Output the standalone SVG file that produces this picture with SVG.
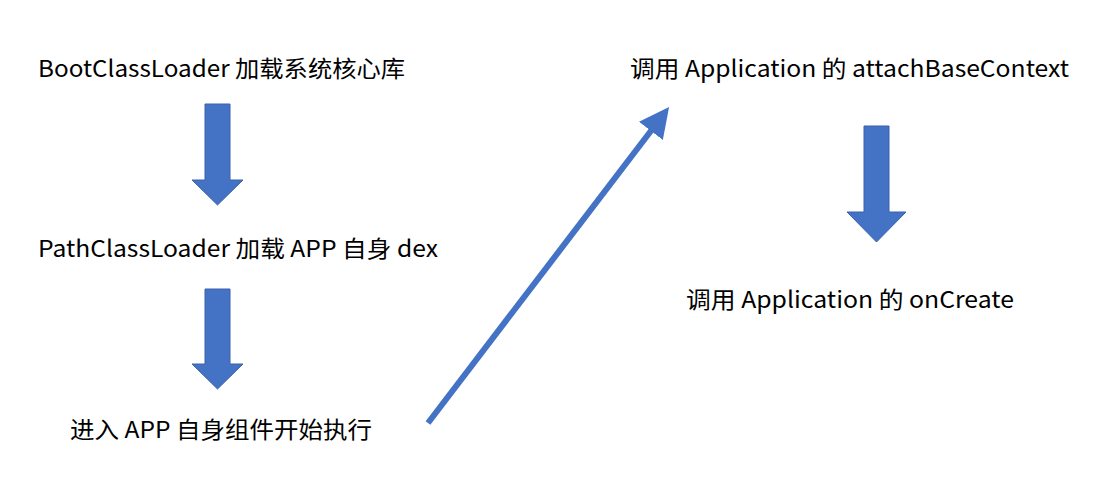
<svg xmlns="http://www.w3.org/2000/svg" width="1098" height="498" viewBox="0 0 1098 498">
<style>
text{font-family:"Noto Sans CJK SC","Noto Sans",sans-serif;font-size:23px;fill:#000}
.blk{fill:#4472C4;stroke:#3a63ad;stroke-width:1}
</style>
<defs>
<marker id="ah" markerWidth="5" markerHeight="5" refX="2.5" refY="2.5" orient="auto" markerUnits="strokeWidth">
<path d="M0,0 L5,2.5 L0,5 z" fill="#4472C4"/>
</marker>
</defs>
<rect width="1098" height="498" fill="#fff"/>
<g id="n1"><text x="38" y="77" textLength="367" lengthAdjust="spacingAndGlyphs">BootClassLoader 加载系统核心库</text></g>
<g id="n2"><text x="38" y="257" textLength="400" lengthAdjust="spacingAndGlyphs">PathClassLoader 加载 APP 自身 dex</text></g>
<g id="n3"><text x="70" y="438" textLength="302" lengthAdjust="spacingAndGlyphs">进入 APP 自身组件开始执行</text></g>
<g id="n4"><text x="630" y="77" textLength="439" lengthAdjust="spacingAndGlyphs">调用 Application 的 attachBaseContext</text></g>
<g id="n5"><text x="686" y="308" textLength="328" lengthAdjust="spacingAndGlyphs">调用 Application 的 onCreate</text></g>
<g id="connectors">
<path class="blk" d="M205,104 H230 V180 H243 L217.5,205 L192,180 H205 Z"/>
<path class="blk" d="M205,289 H230 V364 H243 L217.5,389 L192,364 H205 Z"/>
<path class="blk" d="M864,126 H889 V212 H906 L876.5,242 L847,212 H864 Z"/>
<line x1="428" y1="423" x2="660" y2="119" stroke="#4472C4" stroke-width="6" marker-end="url(#ah)"/>
</g>
</svg>
